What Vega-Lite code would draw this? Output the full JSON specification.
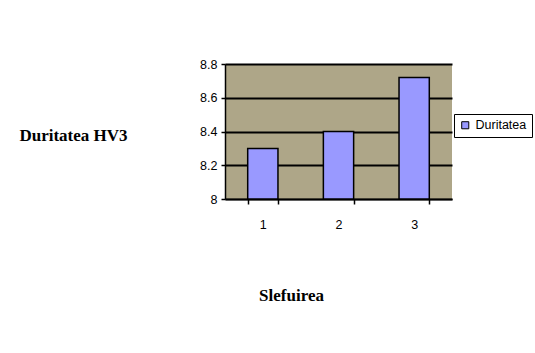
{
  "$schema": "https://vega.github.io/schema/vega-lite/v6.json",
  "autosize": "none",
  "width": 227,
  "height": 135,
  "padding": {"left": 225, "top": 64, "right": 83, "bottom": 154},
  "background": "white",
  "config": {
    "view": {"fill": "#aea688", "stroke": null},
    "axis": {"labelFont": "Liberation Sans", "labelFontSize": 12.5, "labelColor": "#000000", "domainColor": "#000000", "tickColor": "#000000"}
  },
  "data": {"values": [
    {"Slefuirea": "1", "Duritatea": 8.3, "serie": "Duritatea"},
    {"Slefuirea": "2", "Duritatea": 8.4, "serie": "Duritatea"},
    {"Slefuirea": "3", "Duritatea": 8.72, "serie": "Duritatea"}
  ]},
  "mark": {"type": "bar", "stroke": "#000000", "strokeWidth": 1.5},
  "encoding": {
    "x": {
      "field": "Slefuirea", "type": "ordinal",
      "scale": {"paddingInner": 0.6, "paddingOuter": 0.3},
      "axis": {
        "title": "Slefuirea", "titleFont": "Liberation Serif", "titleFontSize": 17, "titleFontWeight": "bold",
        "titleX": 66, "titleY": 88, "titleColor": "#000000",
        "labelAngle": 0, "labelPadding": 14, "tickBand": "extent", "tickSize": 5, "domainWidth": 1.5, "tickWidth": 1.5
      }
    },
    "y": {
      "field": "Duritatea", "type": "quantitative",
      "scale": {"domain": [8, 8.8], "nice": false, "zero": false},
      "axis": {
        "title": "Duritatea HV3", "titleFont": "Liberation Serif", "titleFontSize": 17, "titleFontWeight": "bold",
        "titleAngle": 0, "titleX": -152, "titleY": 80, "titleAlign": "center", "titleColor": "#000000",
        "values": [8, 8.2, 8.4, 8.6, 8.8], "format": "~r",
        "grid": true, "gridColor": "#000000", "gridWidth": 2, "gridOpacity": 1,
        "tickSize": 4, "labelPadding": 4, "domainWidth": 1.5, "tickWidth": 1.5
      }
    },
    "y2": {"datum": 8},
    "color": {
      "field": "serie", "type": "nominal",
      "scale": {"range": ["#9999ff"]},
      "legend": {
        "title": null, "orient": "none", "legendX": 229, "legendY": 50,
        "symbolType": "square", "symbolSize": 50, "symbolStrokeColor": "#000000", "symbolStrokeWidth": 1,
        "labelFont": "Liberation Sans", "labelFontSize": 12.5, "labelColor": "#000000",
        "strokeColor": "#000000", "fillColor": "white", "padding": 5
      }
    }
  }
}
